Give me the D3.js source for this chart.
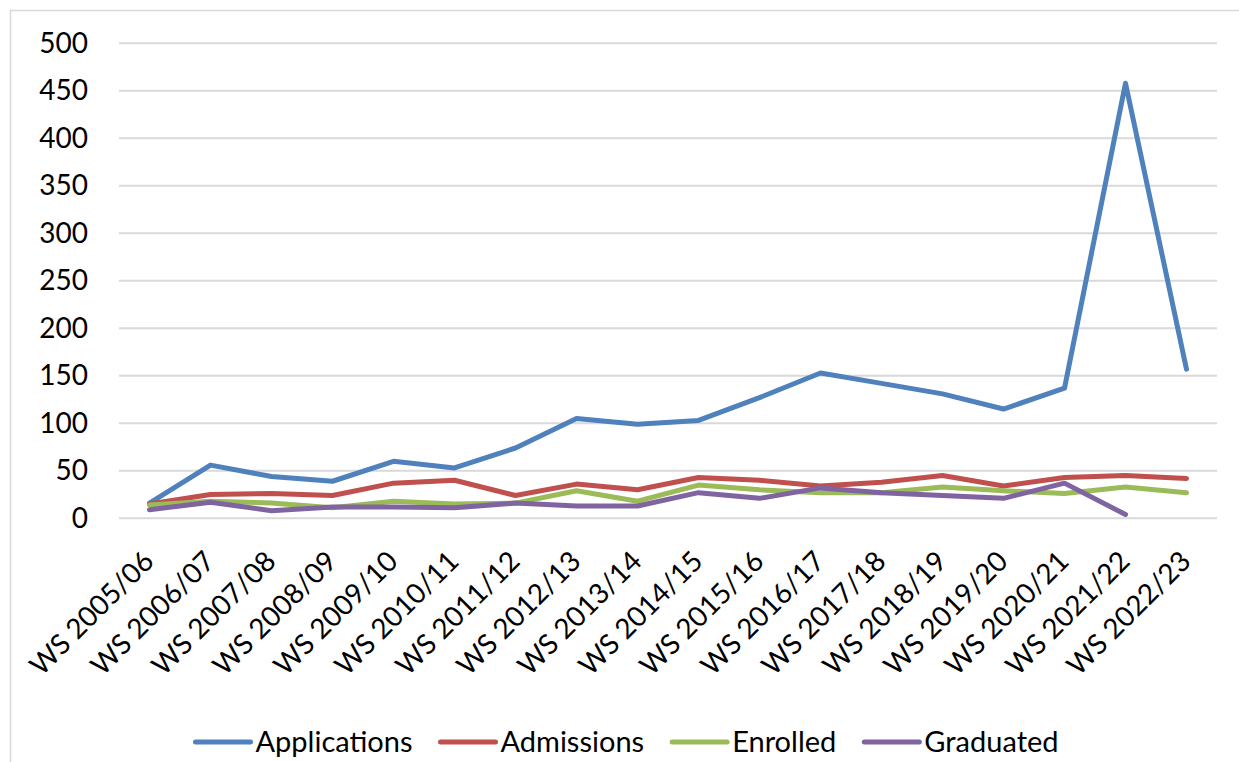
<!DOCTYPE html>
<html>
<head>
<meta charset="utf-8">
<script src="https://cdn.jsdelivr.net/npm/d3@7"></script>
<style>
  body { margin: 0; background: #fff; }
  text { font-family: Lato, "Open Sans", sans-serif; fill: #000; }
</style>
</head>
<body>
<svg width="1239" height="762"></svg>
<script>
// categories and series
const years = ["WS 2005/06","WS 2006/07","WS 2007/08","WS 2008/09","WS 2009/10","WS 2010/11",
  "WS 2011/12","WS 2012/13","WS 2013/14","WS 2014/15","WS 2015/16","WS 2016/17",
  "WS 2017/18","WS 2018/19","WS 2019/20","WS 2020/21","WS 2021/22","WS 2022/23"];
const applications = [16, 56, 44, 39, 60, 53, 74, 105, 99, 103, 127, 153, 142, 131, 115, 137, 458, 157];
const admissions   = [15, 25, 26, 24, 37, 40, 24, 36, 30, 43, 40, 34, 38, 45, 34, 43, 45, 42];
const enrolled     = [14, 18, 16, 11, 18, 15, 16, 29, 18, 35, 30, 27, 27, 33, 29, 26, 33, 27];
const graduated    = [9, 17, 8, 12, 12, 11, 16, 13, 13, 27, 21, 32, 27, 24, 21, 37, 4, null];
const yTicks = [0, 50, 100, 150, 200, 250, 300, 350, 400, 450, 500];

const seriesNames = ["Applications", "Admissions", "Enrolled", "Graduated"];
const seriesValues = [applications, admissions, enrolled, graduated];
const colors = ["#4f81bd", "#c0504d", "#9bbb59", "#8064a2"];

const svg = d3.select("svg");
const fontSize = 28;

// chart frame
svg.append("rect")
  .attr("x", 10.5).attr("y", 10.5)
  .attr("width", 1240).attr("height", 760)
  .attr("fill", "#fff").attr("stroke", "#d9d9d9").attr("stroke-width", 1.5);

const x = d3.scalePoint().domain(years).range([119, 1217]).padding(0.5);
const y = d3.scaleLinear().domain([0, 500]).range([518.3, 43.3]);

// gridlines
svg.append("g").selectAll("line")
  .data(yTicks)
  .join("line")
  .attr("x1", 119).attr("x2", 1217)
  .attr("y1", d => y(d)).attr("y2", d => y(d))
  .attr("stroke", "#d9d9d9").attr("stroke-width", 2);

// y axis labels
const yAxis = svg.append("g")
  .attr("transform", "translate(96,0)")
  .call(d3.axisLeft(y).tickValues(yTicks).tickSize(0).tickPadding(8));
yAxis.select(".domain").remove();
yAxis.selectAll("text")
  .style("font-size", fontSize + "px")
  .style("font-family", "Lato, 'Open Sans', sans-serif")
  .attr("fill", "#000");

// x axis labels, rotated
svg.append("g").selectAll("text")
  .data(years)
  .join("text")
  .attr("transform", d => `translate(${x(d) - 1},556) rotate(-45)`)
  .attr("text-anchor", "end")
  .attr("dy", "0.35em")
  .style("font-size", fontSize + "px")
  .text(d => d);

// lines
const line = d3.line()
  .defined(d => d != null)
  .x((d, i) => x(years[i]))
  .y(d => y(d));

svg.append("g").selectAll("path")
  .data(seriesValues)
  .join("path")
  .attr("d", d => line(d))
  .attr("fill", "none")
  .attr("stroke", (d, i) => colors[i])
  .attr("stroke-width", 5)
  .attr("stroke-linejoin", "round")
  .attr("stroke-linecap", "round");

// legend, centred on the chart frame
const legend = svg.append("g");
const items = legend.selectAll("g")
  .data(seriesNames)
  .join("g");
items.append("line")
  .attr("x1", 0).attr("x2", 55)
  .attr("y1", 742).attr("y2", 742)
  .attr("stroke", (d, i) => colors[i])
  .attr("stroke-width", 5)
  .attr("stroke-linecap", "round");
items.append("text")
  .attr("x", 60).attr("y", 742)
  .attr("dy", "0.35em")
  .style("font-size", "29px")
  .text(d => d);

let offset = 0;
const widths = [];
items.each(function () {
  const w = 60 + d3.select(this).select("text").node().getComputedTextLength();
  widths.push(w);
});
const total = d3.sum(widths) + 28 * (widths.length - 1);
offset = 627 - total / 2;
items.each(function (d, i) {
  d3.select(this).attr("transform", `translate(${offset},0)`);
  offset += widths[i] + 28;
});
</script>
</body>
</html>
